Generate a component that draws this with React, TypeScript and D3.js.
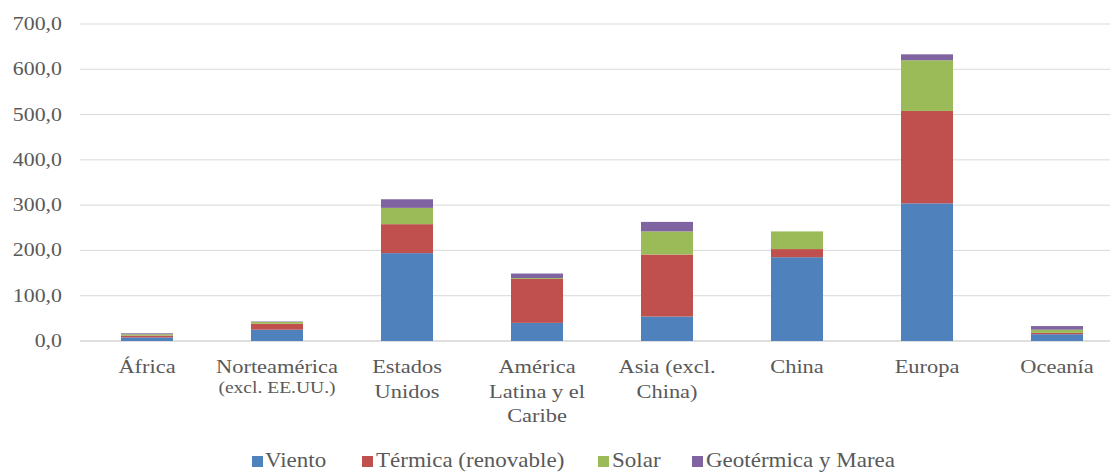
import React from "react";
import * as d3 from "d3";

// Renewable capacity by region and source
const regions = [
  ["África"],
  ["Norteamérica", "(excl. EE.UU.)"],
  ["Estados", "Unidos"],
  ["América", "Latina y el", "Caribe"],
  ["Asia (excl.", "China)"],
  ["China"],
  ["Europa"],
  ["Oceanía"],
];
const seriesNames = ["Viento", "Térmica (renovable)", "Solar", "Geotérmica y Marea"];
const viento = [8, 25, 194, 40, 54, 185, 304, 15];
const termica = [4, 13, 64, 97, 137, 18, 204, 3];
const solar = [3, 4, 36, 2, 51, 39, 112, 7];
const geotermica = [2, 1, 19, 10, 21, 0, 13, 8];
const yTicks = [0, 100, 200, 300, 400, 500, 600, 700];

const colors = ["#4f81bd", "#c0504d", "#9bbb59", "#8064a2"];
const textColor = "#595959";
const font = '"Liberation Serif", "DejaVu Serif", serif';
const sx = 1.15; // horizontal stretch of the lettering

export default function App() {
  const width = 1110;
  const height = 473;
  const left = 82;
  const band = 130;
  const keys = regions.map((r) => r.join(" "));
  const x = d3
    .scaleBand<string>()
    .domain(keys)
    .range([left, left + band * keys.length])
    .paddingInner(0.6)
    .paddingOuter(0.3);
  const y = d3.scaleLinear().domain([0, 700]).range([341, 24]);

  const rows = keys.map((k, i) => ({
    key: k,
    s0: viento[i],
    s1: termica[i],
    s2: solar[i],
    s3: geotermica[i],
  }));
  const stack = d3.stack<any>().keys(["s0", "s1", "s2", "s3"])(rows);
  const bw = x.bandwidth();

  const legendItems = [
    { sq: 252, tx: 265 },
    { sq: 362, tx: 376 },
    { sq: 598, tx: 612 },
    { sq: 692, tx: 706 },
  ];

  return (
    <svg
      width={width}
      height={height}
      style={{ position: "absolute", left: 0, top: 0, background: "#fff" }}
    >
      {yTicks.map((t) => (
        <g key={t}>
          <line
            x1={80}
            x2={width}
            y1={y(t)}
            y2={y(t)}
            stroke={t === 0 ? "#bfbfbf" : "#d9d9d9"}
            strokeWidth={1}
          />
          <text
            transform={`translate(62,${y(t) + 6}) scale(${sx},1)`}
            textAnchor="end"
            fontSize={19}
            fill={textColor}
            fontFamily={font}
          >
            {d3.format(".1f")(t).replace(".", ",")}
          </text>
        </g>
      ))}
      {stack.map((layer, si) =>
        layer.map((d, i) => (
          <rect
            key={`${si}-${i}`}
            x={x(keys[i])!}
            width={bw}
            y={y(d[1])}
            height={Math.max(0, y(d[0]) - y(d[1]))}
            fill={colors[si]}
          />
        ))
      )}
      {regions.map((lines, i) => {
        const cx = x(keys[i])! + bw / 2;
        return (
          <g key={keys[i]}>
            {lines.map((ln, j) => {
              const small = i === 1 && j === 1;
              return (
                <text
                  key={j}
                  transform={`translate(${cx},${373 + j * (small ? 20 : 24.5)}) scale(${sx},1)`}
                  textAnchor="middle"
                  fontSize={small ? 17 : 19.5}
                  fill={textColor}
                  fontFamily={font}
                >
                  {ln}
                </text>
              );
            })}
          </g>
        );
      })}
      {seriesNames.map((name, i) => (
        <g key={name}>
          <rect x={legendItems[i].sq} y={456} width={11} height={11} fill={colors[i]} />
          <text
            transform={`translate(${legendItems[i].tx},467) scale(${sx},1)`}
            fontSize={20}
            fill={textColor}
            fontFamily={font}
          >
            {name}
          </text>
        </g>
      ))}
    </svg>
  );
}
